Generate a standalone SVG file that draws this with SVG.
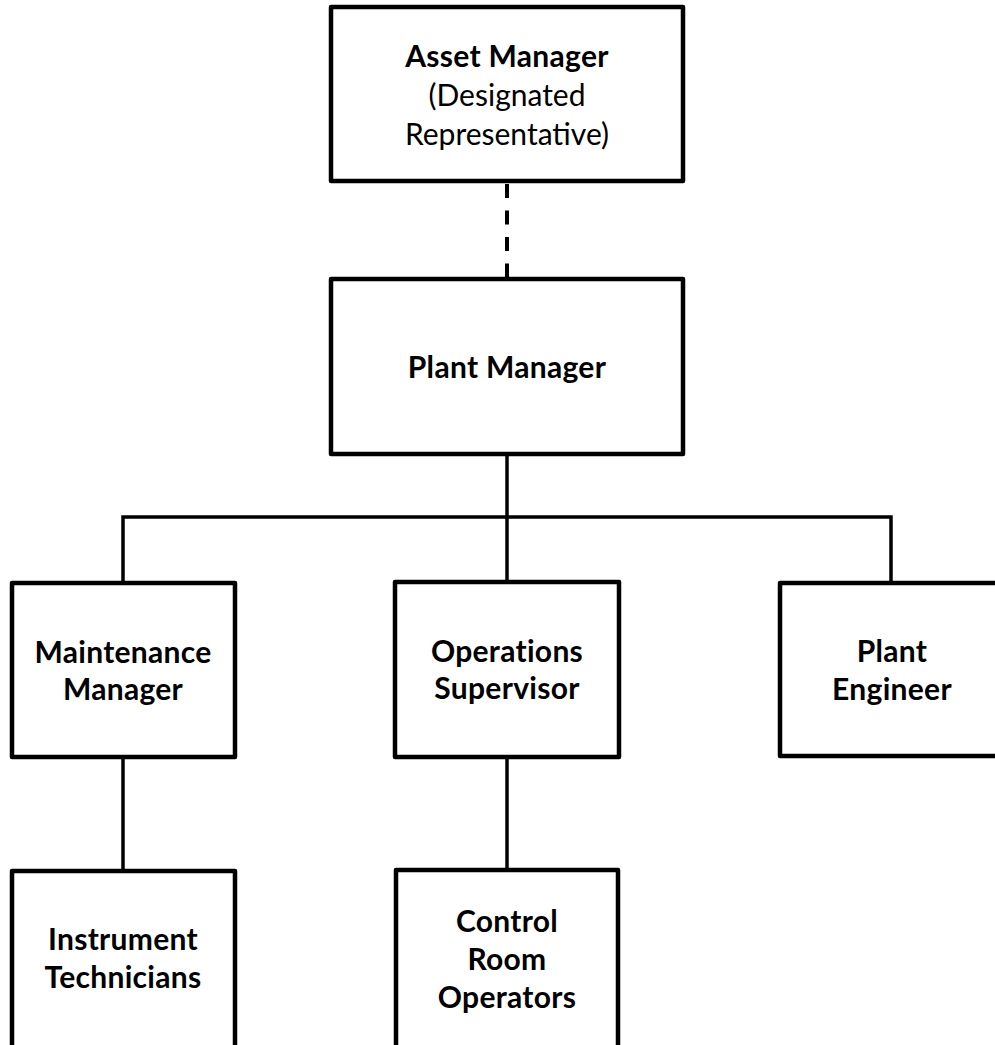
<svg xmlns="http://www.w3.org/2000/svg" width="995" height="1045" viewBox="0 0 995 1045">
<style>
.box{fill:#fff;stroke:#000;stroke-width:4.5;stroke-linejoin:round}
.ln{fill:none;stroke:#000;stroke-width:3.5}
.dash{fill:none;stroke:#000;stroke-width:4;stroke-dasharray:14 12.5}
text{font-family:Lato,"Open Sans",sans-serif;font-size:30px;fill:#000;text-anchor:middle}
.b{font-weight:bold;letter-spacing:0.3px}
</style>
<rect width="995" height="1045" fill="#fff"/>
<g id="connectors">
<line class="dash" x1="507" y1="184" x2="507" y2="278"/>
<line class="ln" x1="507" y1="455" x2="507" y2="581"/>
<polyline class="ln" points="123,581 123,517 891,517 891,581"/>
<line class="ln" x1="123" y1="758" x2="123" y2="870"/>
<line class="ln" x1="507" y1="758" x2="507" y2="869"/>
</g>
<g id="asset-manager">
<rect class="box" x="331" y="7" width="352" height="174"/>
<text x="507" y="67" class="b">Asset Manager</text>
<text x="507" y="106">(Designated</text>
<text x="507" y="145">Representative)</text>
</g>
<g id="plant-manager">
<rect class="box" x="331" y="279" width="352" height="175"/>
<text x="507" y="378" class="b">Plant Manager</text>
</g>
<g id="maintenance-manager">
<rect class="box" x="12" y="583" width="223" height="174"/>
<text x="123" y="663" class="b">Maintenance</text>
<text x="123" y="700" class="b">Manager</text>
</g>
<g id="operations-supervisor">
<rect class="box" x="395" y="582" width="224" height="175"/>
<text x="507" y="662" class="b">Operations</text>
<text x="507" y="699" class="b">Supervisor</text>
</g>
<g id="plant-engineer">
<rect class="box" x="780" y="583" width="224" height="173"/>
<text x="892" y="662" class="b">Plant</text>
<text x="892" y="700" class="b">Engineer</text>
</g>
<g id="instrument-technicians">
<rect class="box" x="12" y="871" width="223" height="190"/>
<text x="123" y="950" class="b">Instrument</text>
<text x="123" y="988" class="b">Technicians</text>
</g>
<g id="control-room-operators">
<rect class="box" x="396" y="870" width="222" height="190"/>
<text x="507" y="932" class="b">Control</text>
<text x="507" y="970" class="b">Room</text>
<text x="507" y="1008" class="b">Operators</text>
</g>
</svg>
